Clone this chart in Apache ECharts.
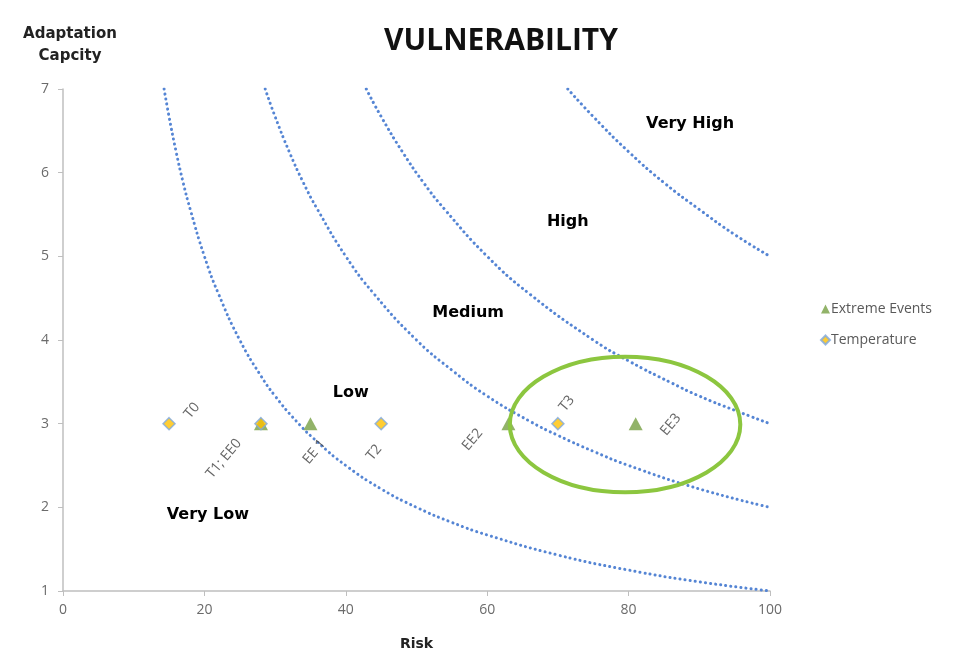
<!DOCTYPE html>
<html>
<head>
<meta charset="utf-8">
<script src="https://cdn.jsdelivr.net/npm/echarts@6/dist/echarts.min.js"></script>
<style>html,body{margin:0;padding:0;background:#fff}#c{width:978px;height:656px}</style>
</head>
<body>
<div id="c"></div>
<script>
// ---- data ----
const xTicks = [0, 20, 40, 60, 80, 100];
const yTicks = [1, 2, 3, 4, 5, 6, 7];

const tempNames = ['T0', 'T1; EE0', 'T2', 'T3'];
const tempX = [15, 28, 45, 70];
const tempY = [3, 3, 3, 3];

const eeNames = ['', 'EE 1', 'EE2', 'EE3'];
const eeX = [28, 35, 63, 81];
const eeY = [3, 3, 3, 3];

// boundary curves
const curveLow = [[14.3,7.0],[15,6.67],[16,6.25],[17,5.88],[18,5.56],[20,5.0],[22,4.55],[25,4.0],[28,3.57],[30,3.33],[33,3.03],[36,2.78],[40,2.5],[45,2.22],[50,2.0],[55,1.82],[60,1.67],[70,1.43],[80,1.25],[90,1.11],[100,1.0]];
const curveMedium = [[28.6,7.0],[30,6.67],[32,6.25],[34,5.88],[36,5.56],[40,5.0],[44,4.55],[50,4.0],[55,3.64],[60,3.33],[66,3.03],[70,2.86],[75,2.67],[80,2.5],[90,2.22],[100,2.0]];
const curveHigh = [[42.9,7.0],[45,6.67],[48,6.25],[51,5.88],[54,5.56],[60,5.0],[66,4.55],[75,4.0],[80,3.75],[86,3.49],[90,3.33],[95,3.16],[100,3.0]];
const curveVeryHigh = [[71.4,7.0],[75,6.67],[80,6.25],[85,5.88],[90,5.56],[95,5.26],[100,5.0]];

const zoneNames = ['Very High', 'High', 'Medium', 'Low', 'Very Low'];
const zoneX = [88.7, 71.4, 57.3, 40.7, 20.5];
const zoneY = [6.58, 5.41, 4.32, 3.37, 1.91];

// highlighted region (ellipse) in data units
const ringCenter = [79.5, 2.99];
const ringRadius = [16.3, 0.81];

// ---- styling ----
const FONT = 'Open Sans';
const ROT = 50;
const labelOffsets = {
  'T0': [23, -13], 'T1; EE0': [-37, 35], 'T2': [-7, 29], 'T3': [9, -20],
  'EE 1': [4, 28], 'EE2': [-36, 16], 'EE3': [35, 1]
};
// label offsets are applied in the rotated frame, so pre-rotate the screen offset
function rotOffset(d) {
  const t = ROT * Math.PI / 180;
  return [d[0] * Math.cos(t) - d[1] * Math.sin(t), d[0] * Math.sin(t) + d[1] * Math.cos(t)];
}
function pointLabel(name) {
  if (!name) return { show: false };
  return {
    show: true, formatter: name, position: 'inside', rotate: ROT,
    offset: rotOffset(labelOffsets[name]), color: '#404040', fontFamily: FONT, fontSize: 14
  };
}
const dotted = { color: '#5585d4', width: 3, type: [0.1, 5], cap: 'round' };
function curveSeries(pts) {
  return {
    type: 'line', data: pts, smooth: true, showSymbol: false, symbol: 'none',
    lineStyle: dotted, silent: true, z: 1, legendHoverLink: false
  };
}

const chart = echarts.init(document.getElementById('c'), null, { renderer: 'canvas' });
const option = {
  animation: false,
  backgroundColor: '#fff',
  title: {
    text: 'VULNERABILITY', left: 496, top: 21, textAlign: 'center',
    textStyle: { fontFamily: FONT, fontWeight: 'bold', fontSize: 30, color: '#111' }
  },
  legend: {
    orient: 'vertical', left: 815, top: 297, itemGap: 17, itemWidth: 9, itemHeight: 9,
    data: ['Extreme Events', 'Temperature'],
    textStyle: { fontFamily: FONT, fontSize: 14, color: '#595959', padding: [0, 0, 0, -4] }
  },
  grid: { left: 63, right: 208, top: 89, bottom: 64 },
  xAxis: {
    type: 'value', min: 0, max: 100, interval: 20,
    name: 'Risk', nameLocation: 'middle', nameGap: 46,
    nameTextStyle: { fontFamily: 'DejaVu Sans', fontWeight: 'bold', fontSize: 14, color: '#222' },
    axisLine: { show: true, lineStyle: { color: '#bfbfbf', width: 1.5 } },
    axisTick: { show: true, length: 5, lineStyle: { color: '#bfbfbf' } },
    axisLabel: { fontFamily: FONT, fontSize: 14, color: '#6b6b6b', margin: 12, formatter: v => xTicks.includes(v) ? String(v) : '' },
    splitLine: { show: false }
  },
  yAxis: {
    type: 'value', min: 1, max: 7, interval: 1,
    name: 'Adaptation\nCapcity', nameLocation: 'end', nameGap: 22,
    nameTextStyle: { fontFamily: 'DejaVu Sans', fontWeight: 'bold', fontSize: 15, color: '#222', align: 'center', lineHeight: 22, padding: [0, 0, 0, 14] },
    axisLine: { show: true, lineStyle: { color: '#bfbfbf', width: 1.5 } },
    axisTick: { show: true, length: 5, lineStyle: { color: '#bfbfbf' } },
    axisLabel: { fontFamily: FONT, fontSize: 14, color: '#6b6b6b', margin: 14, formatter: v => yTicks.includes(v) ? String(v) : '' },
    splitLine: { show: false }
  },
  series: [
    curveSeries(curveLow),
    curveSeries(curveMedium),
    curveSeries(curveHigh),
    curveSeries(curveVeryHigh),
    {
      name: 'zones', type: 'scatter', symbolSize: 0, itemStyle: { color: 'rgba(0,0,0,0)' }, silent: true,
      data: zoneNames.map((n, i) => ({
        value: [zoneX[i], zoneY[i]],
        label: { show: true, position: 'inside', formatter: n, fontFamily: 'DejaVu Sans', fontWeight: 'bold', fontSize: 16, color: '#000', opacity: 1 }
      })), z: 3
    },
    {
      name: 'Extreme Events', type: 'scatter', symbol: 'triangle', symbolSize: [14, 13],
      itemStyle: { color: '#77a043' }, z: 4,
      data: eeNames.map((n, i) => ({ value: [eeX[i], eeY[i]], label: pointLabel(n) }))
    },
    {
      name: 'Temperature', type: 'scatter', symbol: 'diamond', symbolSize: 12,
      itemStyle: { color: '#ffc000', borderColor: '#7fa9dd', borderWidth: 1.5 }, z: 5,
      data: tempNames.map((n, i) => ({ value: [tempX[i], tempY[i]], label: pointLabel(n) }))
    }
  ]
};
chart.setOption(option);

// highlight ring positioned from data coordinates
const c0 = chart.convertToPixel({ gridIndex: 0 }, ringCenter);
const cx = chart.convertToPixel({ gridIndex: 0 }, [ringCenter[0] + ringRadius[0], ringCenter[1] + ringRadius[1]]);
chart.setOption({
  graphic: [{
    type: 'ellipse', z: 10,
    shape: { cx: c0[0], cy: c0[1], rx: Math.abs(cx[0] - c0[0]), ry: Math.abs(c0[1] - cx[1]) },
    style: { fill: 'none', stroke: '#8cc63f', lineWidth: 4 }
  }]
});
</script>
</body>
</html>
